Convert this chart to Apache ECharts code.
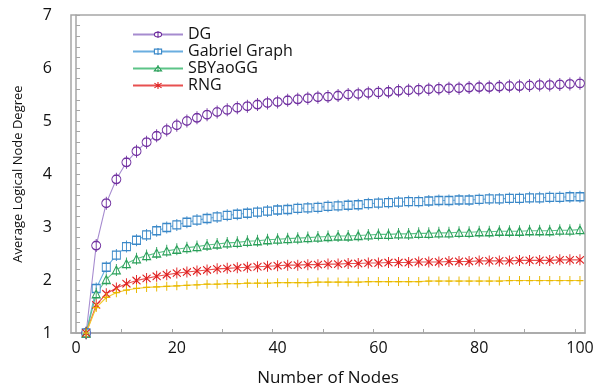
<!DOCTYPE html>
<html>
<head>
<meta charset="utf-8">
<script src="https://cdn.jsdelivr.net/npm/echarts@6/dist/echarts.min.js"></script>
<style>
  html, body { margin: 0; padding: 0; background: #fff; }
  #chart { width: 604px; height: 392px; }
</style>
</head>
<body>
<div id="chart"></div>
<script>
// x values (number of nodes)
const nodes = [2, 4, 6, 8, 10, 12, 14, 16, 18, 20, 22, 24, 26, 28, 30, 32, 34, 36, 38, 40,
  42, 44, 46, 48, 50, 52, 54, 56, 58, 60, 62, 64, 66, 68, 70, 72, 74, 76, 78, 80,
  82, 84, 86, 88, 90, 92, 94, 96, 98, 100];

const dg = [1.0, 2.65, 3.45, 3.90, 4.22, 4.43, 4.60, 4.72, 4.83, 4.92, 5.00, 5.06, 5.12, 5.17, 5.21,
  5.25, 5.28, 5.31, 5.34, 5.36, 5.39, 5.41, 5.43, 5.45, 5.46, 5.48, 5.50, 5.51, 5.53, 5.54,
  5.55, 5.57, 5.58, 5.59, 5.60, 5.61, 5.62, 5.62, 5.63, 5.64, 5.64, 5.65, 5.66, 5.66, 5.67,
  5.68, 5.68, 5.69, 5.70, 5.71];

const gabriel = [1.0, 1.84, 2.24, 2.47, 2.63, 2.75, 2.85, 2.93, 2.99, 3.04, 3.09, 3.13, 3.16, 3.19, 3.22,
  3.24, 3.26, 3.28, 3.30, 3.32, 3.33, 3.35, 3.36, 3.37, 3.39, 3.40, 3.41, 3.42, 3.44, 3.45,
  3.46, 3.47, 3.48, 3.48, 3.49, 3.50, 3.50, 3.51, 3.51, 3.52, 3.53, 3.53, 3.54, 3.54, 3.55,
  3.55, 3.56, 3.56, 3.57, 3.57];

const sbyao = [1.0, 1.74, 2.01, 2.19, 2.31, 2.40, 2.46, 2.51, 2.55, 2.58, 2.61, 2.63, 2.66, 2.68, 2.70,
  2.71, 2.73, 2.74, 2.76, 2.77, 2.78, 2.79, 2.80, 2.81, 2.82, 2.83, 2.83, 2.84, 2.85, 2.86,
  2.86, 2.87, 2.87, 2.88, 2.88, 2.89, 2.89, 2.90, 2.90, 2.91, 2.91, 2.92, 2.92, 2.92, 2.93,
  2.93, 2.93, 2.94, 2.94, 2.95];

const rng = [1.0, 1.53, 1.74, 1.85, 1.93, 1.99, 2.03, 2.07, 2.10, 2.13, 2.15, 2.17, 2.19, 2.21, 2.22,
  2.23, 2.24, 2.25, 2.26, 2.27, 2.28, 2.28, 2.29, 2.29, 2.30, 2.30, 2.31, 2.31, 2.32, 2.32,
  2.33, 2.33, 2.33, 2.34, 2.34, 2.34, 2.35, 2.35, 2.35, 2.36, 2.36, 2.36, 2.36, 2.37, 2.37,
  2.37, 2.37, 2.38, 2.38, 2.38];

// unlabelled yellow series (not in the legend)
const other = [1.0, 1.48, 1.67, 1.76, 1.81, 1.84, 1.86, 1.87, 1.88, 1.89, 1.90, 1.91, 1.92, 1.92, 1.93,
  1.93, 1.94, 1.94, 1.94, 1.95, 1.95, 1.95, 1.95, 1.96, 1.96, 1.96, 1.96, 1.96, 1.97, 1.97,
  1.97, 1.97, 1.97, 1.97, 1.98, 1.98, 1.98, 1.98, 1.98, 1.98, 1.98, 1.98, 1.99, 1.99, 1.99,
  1.99, 1.99, 1.99, 1.99, 1.99];

const legendNames = ['DG', 'Gabriel Graph', 'SBYaoGG', 'RNG'];
const xLabels = [0, 20, 40, 60, 80, 100];
const xTicks = [9, 19, 29, 39, 49, 59, 69, 79, 89, 99];

const font = 'Open Sans';
const axisGrey = '#a6a6a6';

function pairs(vals) {
  return nodes.map((n, i) => [n, vals[i]]);
}

// marker shapes (with the little vertical error bar through them)
const symCircle = 'path://M0,6A4,4 0 1,1 8,6A4,4 0 1,1 0,6ZM4,0L4,12';
const symSquare = 'path://M0,2L8,2L8,10L0,10ZM4,0L4,12';
const symTri = 'path://M0,10L4,2L8,10ZM4,0L4,12';
const symX = 'path://M0,2L8,10M8,2L0,10M4,0L4,12';
const symPlus = 'path://M0,6L8,6M4,0L4,12';

function mkSeries(name, vals, sym, size, mark, line) {
  return {
    name: name,
    type: 'line',
    data: pairs(vals),
    symbol: sym,
    symbolSize: size,
    showAllSymbol: true,
    color: mark,
    itemStyle: { color: '#fff', borderColor: mark, borderWidth: 1.1 },
    lineStyle: { color: line, width: 1.1 },
    emphasis: { disabled: true },
    animation: false
  };
}

const chart = echarts.init(document.getElementById('chart'));
chart.setOption({
  backgroundColor: '#fff',
  grid: {
    left: 71, right: 19, top: 15, bottom: 50,
    show: true, borderColor: axisGrey, borderWidth: 1.5, backgroundColor: 'transparent'
  },
  legend: {
    data: legendNames,
    orient: 'vertical',
    left: 127, top: 21,
    itemWidth: 50, itemHeight: 9, itemGap: 0,
    itemStyle: { color: '#fff', borderWidth: 1.1 },
    textStyle: { fontFamily: font, fontSize: 16, color: '#111', lineHeight: 17 }
  },
  xAxis: {
    type: 'value',
    min: -1, max: 101,
    name: 'Number of Nodes',
    nameLocation: 'middle',
    nameGap: 37,
    nameTextStyle: { fontFamily: font, fontSize: 17, color: '#111' },
    axisLine: { show: true, lineStyle: { color: axisGrey, width: 1.5 } },
    axisTick: { show: true, inside: true, length: 4, customValues: xTicks, lineStyle: { color: axisGrey } },
    axisLabel: { customValues: xLabels, margin: 7, fontFamily: font, fontSize: 16, color: '#111' },
    splitLine: { show: false }
  },
  yAxis: {
    type: 'value',
    min: 1, max: 7, interval: 1,
    name: 'Average Logical Node Degree',
    nameLocation: 'middle',
    nameGap: 46,
    nameTextStyle: { fontFamily: font, fontSize: 13, color: '#111' },
    axisLine: { show: true, lineStyle: { color: axisGrey, width: 1.5 } },
    axisTick: { show: true, inside: true, length: 4, lineStyle: { color: axisGrey } },
    minorTick: { show: true, splitNumber: 5, length: 4, lineStyle: { color: axisGrey } },
    axisLabel: { margin: 19, fontFamily: font, fontSize: 16, color: '#111' },
    splitLine: { show: false }
  },
  series: [
    mkSeries('DG', dg, symCircle, [9, 13], '#7030a0', '#a68bcf'),
    mkSeries('Gabriel Graph', gabriel, symSquare, [8, 12], '#3a88c8', '#6aaee0'),
    mkSeries('SBYaoGG', sbyao, symTri, [8, 12], '#2aa05a', '#5cc487'),
    mkSeries('RNG', rng, symX, [8, 11], '#e02020', '#e85050'),
    mkSeries('other', other, symPlus, [7, 9], '#e8b800', '#f2cc30')
  ]
});
</script>
</body>
</html>
